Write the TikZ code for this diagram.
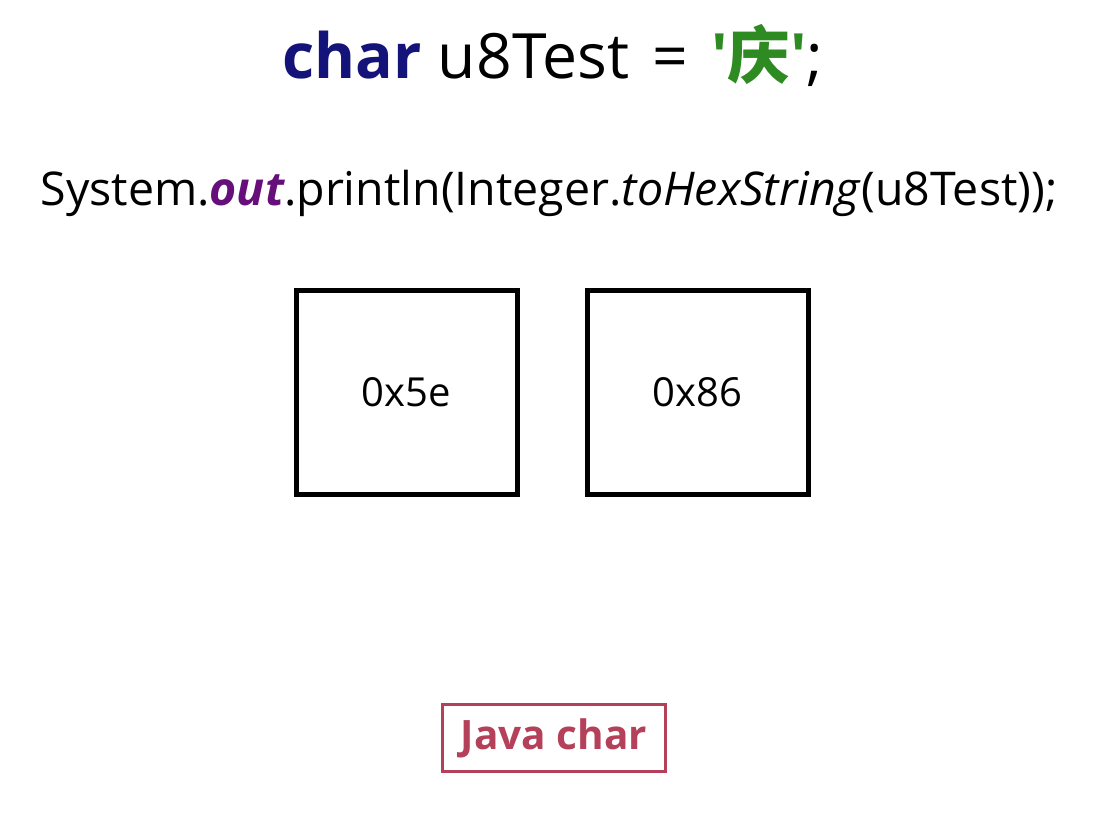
\documentclass[tikz,border=0pt]{standalone}
\usepackage{fontspec}
\setmainfont{Open Sans}
\newfontfamily\cjk{Noto Sans CJK SC}
\definecolor{kw}{HTML}{13137A}
\definecolor{str}{HTML}{2E8B22}
\definecolor{fld}{HTML}{660E7A}
\definecolor{tag}{HTML}{B5405A}
\begin{document}
\begin{tikzpicture}[x=1pt,y=-1pt,
  cell/.style={draw=black,line width=5pt,minimum width=221pt,minimum height=204pt,inner sep=0pt,font=\fontsize{40}{48}\selectfont},
  tagbox/.style={draw=tag,line width=3pt,minimum width=223pt,minimum height=67pt,inner sep=0pt,text=tag,font=\fontsize{40.5}{46}\selectfont\bfseries}]
\fill[white] (0,0) rectangle (1116,830);
\useasboundingbox (0,0) rectangle (1116,830);
\node[anchor=base,font=\fontsize{62.5}{66}\selectfont] (title) at (553,78) {\textcolor{kw}{\bfseries char} u8Test \hspace{0.12em}=\hspace{0.1em} \textcolor{str}{\bfseries\textquotesingle{\cjk\bfseries 庆}\textquotesingle};};
\node[anchor=base,font=\fontsize{46.5}{52}\selectfont] (call) at (549,205) {System.\textcolor{fld}{\bfseries\itshape out}.println(Integer.\textit{toHexString}(u8Test));};
\node[cell] (b1) at (406.5,392) {0x5e};
\node[cell] (b2) at (697.5,392) {0x86};
\node[tagbox] (jc) at (554,738) {Java char};
\end{tikzpicture}
\end{document}
